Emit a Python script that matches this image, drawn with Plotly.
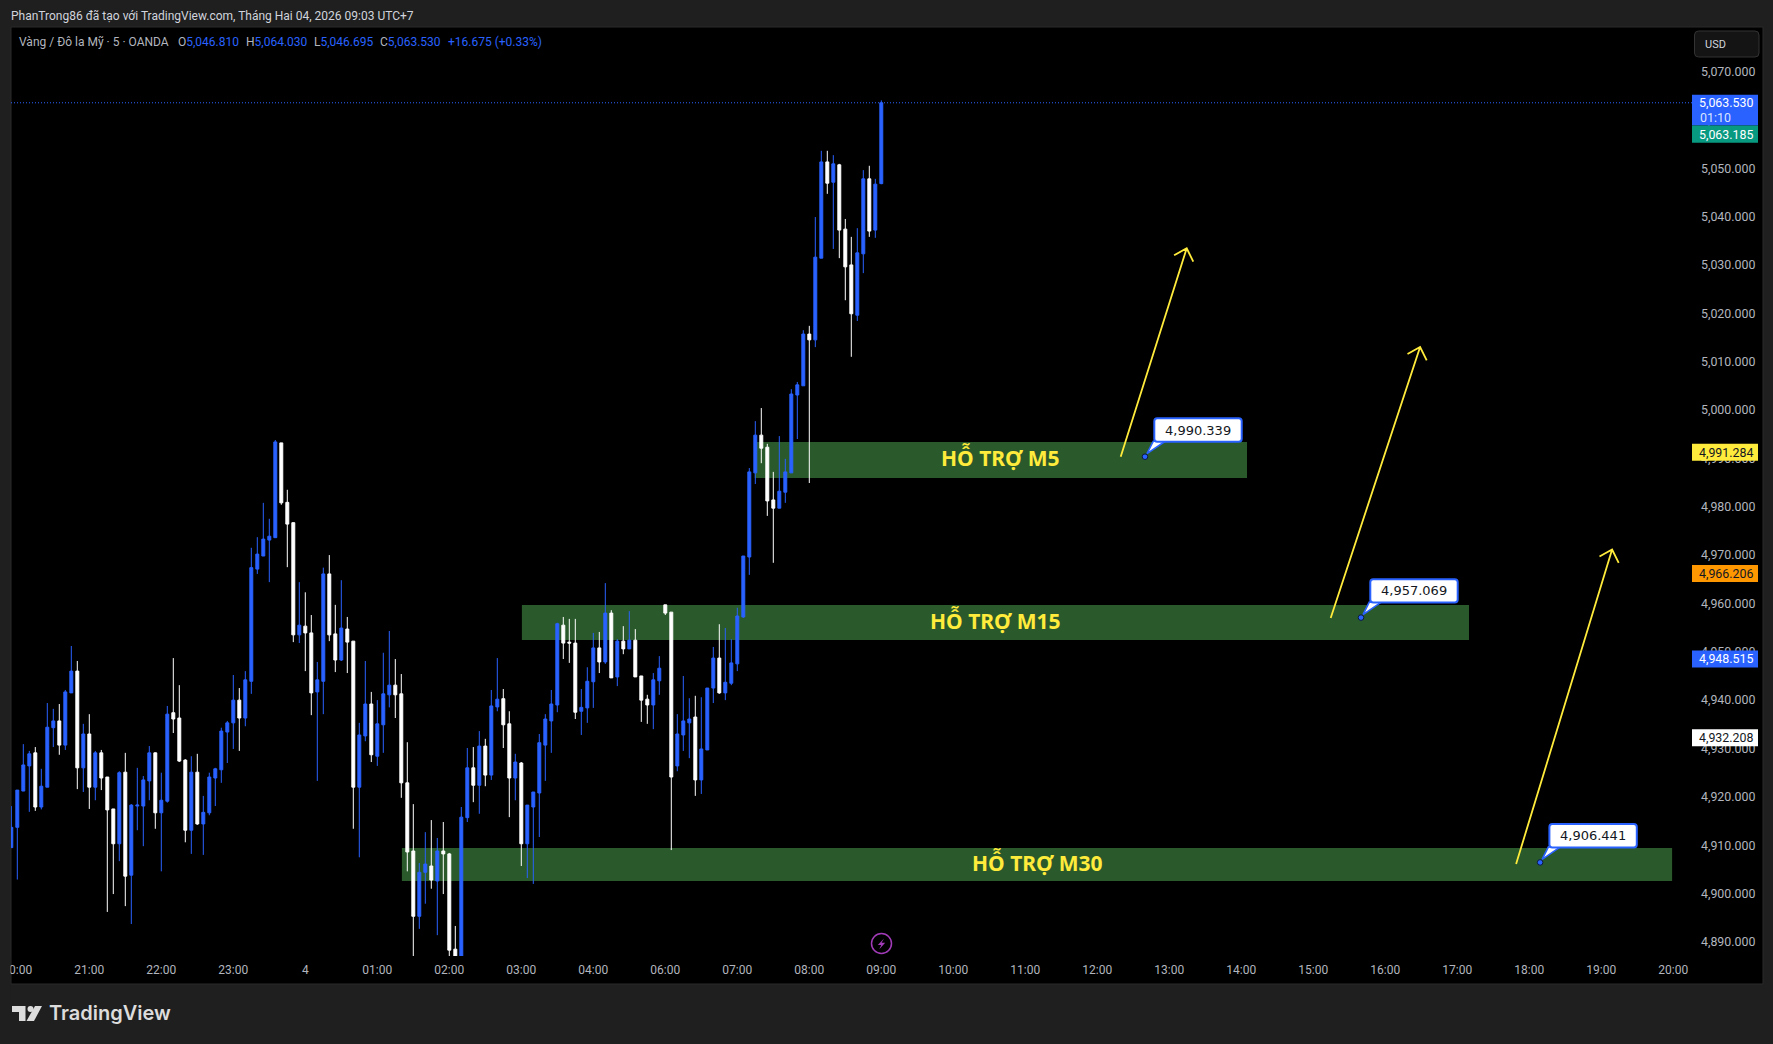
import plotly.graph_objects as go

# XAUUSD 5-minute session, OANDA feed (bar -1 is the 19:55 candle, bar 0 is 20:00)
OPEN = [4909.5,4913.7,4921.2,4926.4,4929.1,4917.9,4922.0,4934.3,4935.7,4930.7,4941.5,4946.0,4926.0,4933.0,4922.0,4929.1,4924.1,4917.5,4910.3,4925.1,4903.8,4918.1,4918.1,4923.3,4929.1,4916.7,4919.1,4937.4,4936.3,4927.6,4913.1,4925.1,4914.4,4916.7,4923.9,4925.6,4933.4,4935.3,4940.0,4936.3,4943.9,4967.1,4969.8,4973.1,4973.6,4993.2,4980.9,4976.7,4953.5,4955.3,
        4953.9,4941.7,4943.9,4966.1,4953.7,4948.3,4954.7,4952.2,4922.0,4932.6,4939.2,4928.4,4934.9,4941.1,4943.1,4941.3,4922.9,4908.8,4895.3,4904.4,4905.7,4902.6,4908.8,4908.2,4888.5,4883.9,4915.7,4926.0,4922.4,4930.5,4924.5,4938.6,4940.3,4935.1,4923.9,4927.0,4910.3,4917.9,4920.8,4930.7,4935.7,4939.0,4955.5,4952.0,4951.8,4937.7,4938.4,
        4943.8,4950.8,4947.9,4958.0,4944.8,4952.2,4950.6,4952.4,4945.0,4940.2,4939.0,4944.0,4959.7,4958.2,4926.4,4932.8,4935.3,4936.5,4923.5,4929.7,4942.5,4948.7,4941.5,4943.5,4947.5,4957.2,
        4969.6,4987.0,4994.8,4992.3,4981.4,4979.7,4983.0,4987.0,5003.1,5005.0,5015.7,5014.5,5031.4,5051.3,5047.1,5050.7,5037.4,5030.0,5019.6,5032.3,5047.8,5037.2,5046.81]
HIGH = [4918.1,4921.4,4930.9,4929.5,4930.3,4925.8,4939.4,4938.2,4939.2,4942.1,4951.2,4948.1,4935.1,4937.1,4929.5,4929.7,4924.1,4917.5,4925.3,4929.1,4918.5,4926.0,4924.3,4930.5,4929.2,4925.0,4938.8,4948.7,4943.1,4927.8,4928.4,4928.9,4920.2,4925.0,4926.0,4934.3,4935.7,4945.2,4942.5,4946.0,4971.5,4973.7,4980.8,4977.5,4993.8,4993.2,4983.5,4976.7,4964.4,4962.3,
        4957.6,4947.9,4967.4,4970.0,4959.7,4964.8,4957.2,4952.2,4935.3,4948.1,4941.7,4940.0,4949.8,4954.3,4948.5,4945.4,4931.3,4918.5,4906.3,4912.7,4915.2,4911.5,4914.8,4908.4,4893.3,4917.9,4930.1,4930.3,4933.6,4932.0,4942.1,4948.7,4942.3,4937.7,4928.9,4927.2,4918.3,4921.0,4933.0,4937.1,4942.1,4956.0,4957.2,4956.8,4956.8,4942.3,4946.8,
        4953.9,4954.1,4964.2,4958.6,4952.6,4955.3,4958.4,4954.7,4945.0,4941.1,4945.6,4949.1,4959.7,4958.2,4937.1,4945.0,4940.4,4940.9,4940.6,4942.5,4951.0,4955.7,4954.9,4952.6,4959.1,4969.8,
        4988.0,4997.7,5000.4,4993.0,4987.2,4994.6,4989.9,5004.3,5005.8,5016.5,5017.4,5039.9,5053.6,5053.6,5052.7,5050.9,5039.5,5035.8,5037.6,5049.6,5050.5,5047.8,5064.03]
LOW = [4909.5,4902.9,4921.2,4916.9,4917.1,4917.4,4922.0,4930.3,4928.7,4929.7,4941.5,4921.6,4921.0,4917.5,4919.3,4921.4,4896.2,4899.9,4906.7,4897.4,4893.7,4913.1,4909.8,4919.3,4913.4,4904.6,4918.8,4933.2,4927.2,4910.6,4908.2,4914.2,4908.0,4916.2,4918.1,4922.9,4927.0,4929.9,4929.5,4934.6,4941.3,4966.1,4969.8,4964.4,4973.6,4980.4,4967.5,4952.0,4951.8,4946.0,
       4936.9,4923.3,4937.1,4952.2,4945.8,4948.1,4945.6,4913.4,4907.5,4931.5,4927.2,4926.4,4929.1,4938.5,4936.3,4919.8,4904.6,4884.6,4892.7,4897.9,4901.0,4891.4,4899.9,4884.6,4884.6,4883.9,4914.8,4918.9,4916.5,4922.2,4923.5,4937.7,4930.1,4915.8,4919.3,4905.7,4903.2,4902.0,4911.7,4923.3,4929.1,4937.5,4948.5,4947.7,4936.1,4932.8,4935.3,
       4938.4,4945.6,4947.5,4944.6,4942.9,4949.5,4950.6,4944.8,4935.5,4935.1,4934.0,4941.1,4957.6,4909.0,4925.3,4929.5,4928.0,4920.2,4920.6,4929.7,4939.4,4941.3,4940.0,4943.1,4946.0,4957.0,
       4965.9,4984.7,4989.0,4978.1,4968.4,4979.7,4980.8,4987.0,4994.0,5005.0,4984.9,5013.0,5031.4,5044.7,5033.3,5031.4,5022.7,5011.0,5018.4,5028.3,5035.8,5035.6,5046.695]
CLOSE = [4913.7,4921.4,4926.6,4928.9,4917.9,4922.2,4934.4,4935.7,4930.7,4941.7,4946.0,4926.0,4933.0,4922.0,4929.1,4923.9,4917.3,4910.3,4925.0,4903.6,4918.3,4918.3,4923.5,4929.1,4916.7,4919.3,4937.1,4936.1,4927.4,4913.1,4925.1,4914.4,4916.8,4924.1,4925.8,4933.6,4935.3,4940.0,4936.3,4944.2,4967.4,4970.2,4973.3,4973.9,4993.4,4980.8,4976.4,4953.5,4955.5,4953.9,
         4941.5,4944.2,4966.1,4953.5,4948.3,4954.9,4952.0,4922.0,4932.8,4939.2,4928.7,4935.1,4941.3,4943.1,4941.1,4922.9,4908.6,4895.3,4904.4,4906.1,4902.8,4908.8,4908.2,4888.3,4885.4,4915.8,4926.0,4922.4,4930.5,4924.5,4938.8,4940.2,4934.9,4923.9,4927.2,4910.3,4918.3,4921.0,4931.2,4936.1,4939.2,4955.8,4951.8,4951.8,4937.5,4938.5,4943.9,
         4950.8,4947.9,4958.0,4944.6,4952.2,4950.6,4952.4,4944.8,4940.0,4939.0,4944.2,4946.6,4958.0,4924.1,4933.0,4935.7,4936.1,4923.5,4929.9,4942.5,4948.7,4941.5,4943.7,4947.7,4957.4,4969.8,
         4987.2,4994.8,4992.1,4981.2,4979.7,4983.2,4987.2,5003.3,5005.2,5015.7,5014.5,5031.6,5051.3,5046.9,5050.9,5037.2,5029.6,5019.9,5032.5,5047.8,5037.0,5046.7,5063.53]
BARS = list(range(-1, 145))

# Session clock labels: one every 12 bars, 05:00 is the daily market break
TIME_TICKS = ["20:00","21:00","22:00","23:00","4","01:00","02:00","03:00","04:00","06:00","07:00","08:00","09:00",
              "10:00","11:00","12:00","13:00","14:00","15:00","16:00","17:00","18:00","19:00","20:00"]
PRICE_TICKS = list(range(4890, 5071, 10))

# Support zones: label, first bar, last bar, lower price, upper price
ZONE_LABELS = ["HỖ TRỢ M5", "HỖ TRỢ M15", "HỖ TRỢ M30"]
ZONE_FROM = [122.9, 84.1, 64.1]
ZONE_TO = [204.95, 241.95, 275.8]
ZONE_LOW = [4985.94, 4952.44, 4902.59]
ZONE_HIGH = [4993.38, 4959.68, 4909.41]
ZONE_TEXT_BAR = [163.9, 163.0, 170.0]

# Projected moves off each zone
ARROW_BAR_A = [183.9, 218.9, 249.8]
ARROW_PRICE_A = [4990.34, 4957.0, 4906.1]
ARROW_BAR_B = [194.9, 233.8, 265.8]
ARROW_PRICE_B = [5033.44, 5013.03, 4971.15]

# Price notes
NOTE_BAR = [187.95, 223.95, 253.8]
NOTE_PRICE = [4990.339, 4957.069, 4906.441]

# Right-scale price tags
TAG_PRICE = [4991.284, 4966.206, 4948.515, 4932.208]
TAG_FILL = ["#ffeb3b", "#ff9800", "#2962ff", "#ffffff"]
TAG_INK = ["#131722", "#131722", "#ffffff", "#131722"]
LAST_PRICE = 5063.53
BID_PRICE = 5063.185
COUNTDOWN = "01:10"

BG = "#1f1f1f"
BLUE = "#2962ff"
YELLOW = "#ffeb3b"
AXIS_INK = "#b2b5be"
WIDTH, HEIGHT = 1773, 1044
LEFT, RIGHT, TOP, BOTTOM = 11, 1692, 27, 956


def px(x):
    return (x - LEFT) / (RIGHT - LEFT)


def py(y):
    return (BOTTOM - y) / (BOTTOM - TOP)


def paper_path(points, close=True):
    d = "M " + " L ".join(f"{px(x):.6f},{py(y):.6f}" for x, y in points)
    return d + (" Z" if close else "")


def rounded_path(x0, y0, x1, y1, rx, ry):
    # rectangle with soft corners, y0 is the edge the path starts on
    return (f"M {x0 + rx} {y0} L {x1 - rx} {y0} Q {x1} {y0} {x1} {y0 + ry} "
            f"L {x1} {y1 - ry} Q {x1} {y1} {x1 - rx} {y1} "
            f"L {x0 + rx} {y1} Q {x0} {y1} {x0} {y1 - ry} "
            f"L {x0} {y0 + ry} Q {x0} {y0} {x0 + rx} {y0} Z")


fig = go.Figure()

fig.add_trace(go.Candlestick(
    x=BARS, open=OPEN, high=HIGH, low=LOW, close=CLOSE,
    increasing=dict(line=dict(color=BLUE, width=1), fillcolor=BLUE),
    decreasing=dict(line=dict(color="#ffffff", width=1), fillcolor="#ffffff"),
    whiskerwidth=0, hoverinfo="skip", showlegend=False,
))

# Arrows with an open chevron at the tip
for xa, ya, xb, yb in zip(ARROW_BAR_A, ARROW_PRICE_A, ARROW_BAR_B, ARROW_PRICE_B):
    fig.add_trace(go.Scatter(
        x=[xa, xb, xb - 2.1, xb, xb + 1.1],
        y=[ya, yb, yb - 1.45, yb, yb - 2.77],
        mode="lines", line=dict(color=YELLOW, width=1.8),
        hoverinfo="skip", showlegend=False,
    ))

shapes = [
    # black working area behind the pane and both scales
    dict(type="rect", xref="paper", yref="paper", layer="below",
         x0=px(11), x1=px(1763), y0=py(984), y1=py(27),
         fillcolor="#000000", line=dict(color="#2b2b2b", width=1)),
    dict(type="line", xref="paper", yref="y", layer="below", x0=0, x1=1,
         y0=LAST_PRICE, y1=LAST_PRICE, line=dict(color=BLUE, width=1, dash="1px,2px")),
    # hides the part of the first time label that runs past the pane edge
    dict(type="rect", xref="paper", yref="paper", layer="above",
         x0=px(0), x1=px(10.5), y0=py(1000), y1=py(957),
         fillcolor=BG, line=dict(width=0)),
]
for x0, x1, lo, hi in zip(ZONE_FROM, ZONE_TO, ZONE_LOW, ZONE_HIGH):
    shapes.append(dict(type="rect", xref="x", yref="y", layer="below",
                       x0=x0, x1=x1, y0=lo, y1=hi,
                       fillcolor="#2a5a2b", line=dict(width=0)))

scale_x0, scale_x1 = 1.0, px(1758)


def tag(anchor, low, high, fill):
    return dict(type="rect", xref="paper", yref="y", layer="above",
                x0=scale_x0, x1=scale_x1, ysizemode="pixel", yanchor=anchor,
                y0=low, y1=high, fillcolor=fill, line=dict(width=0))


for price, fill in zip(TAG_PRICE, TAG_FILL):
    shapes.append(tag(price, -8.5, 8.5, fill))
shapes.append(tag(LAST_PRICE, -22.7, 8, BLUE))
shapes.append(tag(LAST_PRICE, -40, -22.7, "#089981"))

# price notes: rounded bubble and pointer, sized in pixels from the anchored price
for bar, price in zip(NOTE_BAR, NOTE_PRICE):
    anchored = dict(type="path", xref="x", yref="y", layer="above",
                    xsizemode="pixel", ysizemode="pixel", xanchor=bar, yanchor=price)
    shapes.append(dict(anchored, path="M 2 3 L 8.3 15.5 L 20.3 15.5 Z",
                       fillcolor="#ffffff", line=dict(color=BLUE, width=1.6)))
    shapes.append(dict(anchored, path=rounded_path(9.3, 15, 96.7, 38.4, 3, 3),
                       fillcolor="#ffffff", line=dict(color=BLUE, width=2)))
    shapes.append(dict(type="circle", xref="x", yref="y", layer="above",
                       xsizemode="pixel", ysizemode="pixel", xanchor=bar, yanchor=price,
                       x0=-2.8, x1=2.8, y0=-2.8, y1=2.8,
                       fillcolor=BLUE, line=dict(color="#0c1a3a", width=1)))

# currency button
shapes.append(dict(type="path", xref="paper", yref="paper", layer="above",
                   path=rounded_path(px(1694.5), py(31), px(1759), py(57),
                                     4 / (RIGHT - LEFT), -4 / (BOTTOM - TOP)),
                   fillcolor="#141414", line=dict(color="#333333", width=1)))

# pending-event badge on the time line
shapes.append(dict(type="circle", xref="paper", yref="paper", layer="above",
                   x0=px(871.5), x1=px(891.5), y0=py(953.5), y1=py(933.5),
                   fillcolor="rgba(0,0,0,0)", line=dict(color="#a23bb8", width=1.5)))
shapes.append(dict(type="path", xref="paper", yref="paper", layer="above",
                   path=paper_path([(884, 938.5), (877.8, 945), (881.2, 945),
                                    (879.3, 949.3), (885.2, 942.7), (881.6, 942.7)]),
                   fillcolor="#a23bb8", line=dict(width=0)))

# brand mark
LOGO = "#dcdcdc"
shapes.append(dict(type="path", xref="paper", yref="paper", layer="above",
                   path=paper_path([(12, 1006), (25.5, 1006), (25.5, 1021), (19, 1021), (19, 1012), (12, 1012)]),
                   fillcolor=LOGO, line=dict(width=0)))
shapes.append(dict(type="circle", xref="paper", yref="paper", layer="above",
                   x0=px(27.5), x1=px(33.5), y0=py(1012), y1=py(1006),
                   fillcolor=LOGO, line=dict(width=0)))
shapes.append(dict(type="path", xref="paper", yref="paper", layer="above",
                   path=paper_path([(35, 1006), (42, 1006), (34, 1021), (26.5, 1021)]),
                   fillcolor=LOGO, line=dict(width=0)))


def text_at(x, y, text, size=12, color=AXIS_INK, family="Roboto", anchor="left", **kw):
    return dict(xref="paper", yref="paper", x=px(x), y=py(y), text=text, showarrow=False,
                xanchor=anchor, yanchor="middle", borderpad=0,
                font=dict(family=family, size=size, color=color, **kw))


ann = [
    text_at(10, 15.5, "PhanTrong86 đã tạo với TradingView.com, Tháng Hai 04, 2026 09:03 UTC+7",
            size=12, color="#d1d4dc"),
    text_at(18, 42, "Vàng / Đô la Mỹ · 5 · OANDA", size=12),
]
for x, letter, val in [(177, "O", "5,046.810"), (245, "H", "5,064.030"),
                       (313, "L", "5,046.695"), (379, "C", "5,063.530")]:
    ann.append(text_at(x, 42, f'{letter}<span style="color:{BLUE}">{val}</span>', size=12))
ann.append(text_at(446.6, 42, "+16.675 (+0.33%)", size=12, color=BLUE))
ann.append(text_at(1704, 44.5, "USD", size=11, color="#d1d4dc"))
ann.append(text_at(47.5, 1013, "TradingView", size=20, color=LOGO, family="Inter", weight=600))

# zone captions
for label, bar, lo, hi in zip(ZONE_LABELS, ZONE_TEXT_BAR, ZONE_LOW, ZONE_HIGH):
    ann.append(dict(xref="x", yref="y", x=bar, y=(lo + hi) / 2, yshift=2, text=label, showarrow=False,
                    font=dict(family="Noto Sans", size=21, color=YELLOW, weight=700)))

# price note captions, centred in their bubbles
for bar, price in zip(NOTE_BAR, NOTE_PRICE):
    ann.append(dict(xref="x", yref="y", x=bar, y=price, xshift=53, yshift=26.7,
                    text=f"{price:,.3f}", showarrow=False, borderpad=0,
                    font=dict(family="DejaVu Sans", size=13, color="#131722")))

# tags on the price scale
scale_right = px(1754)
for price, ink in zip(TAG_PRICE, TAG_INK):
    ann.append(dict(xref="paper", yref="y", x=scale_right, y=price, text=f"{price:,.3f}",
                    showarrow=False, xanchor="right", yanchor="middle", borderpad=0,
                    font=dict(family="Roboto", size=12.4, color=ink)))
ann.append(dict(xref="paper", yref="y", x=scale_right, y=LAST_PRICE, text=f"{LAST_PRICE:,.3f}",
                showarrow=False, xanchor="right", yanchor="middle", borderpad=0,
                font=dict(family="Roboto", size=12.4, color="#ffffff")))
ann.append(dict(xref="paper", yref="y", x=px(1699.5), y=LAST_PRICE, yshift=-15, text=COUNTDOWN,
                showarrow=False, xanchor="left", yanchor="middle", borderpad=0,
                font=dict(family="Roboto", size=12.4, color="#dbe4ff")))
ann.append(dict(xref="paper", yref="y", x=scale_right, y=LAST_PRICE, yshift=-31.5, text=f"{BID_PRICE:,.3f}",
                showarrow=False, xanchor="right", yanchor="middle", borderpad=0,
                font=dict(family="Roboto", size=12.4, color="#ffffff")))

fig.update_layout(
    width=WIDTH, height=HEIGHT, autosize=False,
    margin=dict(l=LEFT, r=WIDTH - RIGHT, t=TOP, b=HEIGHT - BOTTOM, pad=0),
    paper_bgcolor=BG, plot_bgcolor="#000000",
    showlegend=False, hovermode=False, shapes=shapes, annotations=ann,
    xaxis=dict(range=[-1.05, 279.117], rangeslider=dict(visible=False), automargin=False,
               tickmode="array", tickvals=[i * 12 for i in range(len(TIME_TICKS))], ticktext=TIME_TICKS,
               showgrid=False, zeroline=False, showline=False, ticks="", ticklabelstandoff=5,
               tickfont=dict(family="Roboto", size=12, color=AXIS_INK)),
    yaxis=dict(range=[4887.09, 5079.2], side="right", automargin=False,
               tickmode="array", tickvals=PRICE_TICKS, tickformat=",.3f",
               showgrid=False, zeroline=False, showline=False, ticks="", ticklabelstandoff=8,
               tickfont=dict(family="Roboto", size=12.4, color=AXIS_INK)),
)

fig.write_html("out.html", config=dict(displayModeBar=False))
